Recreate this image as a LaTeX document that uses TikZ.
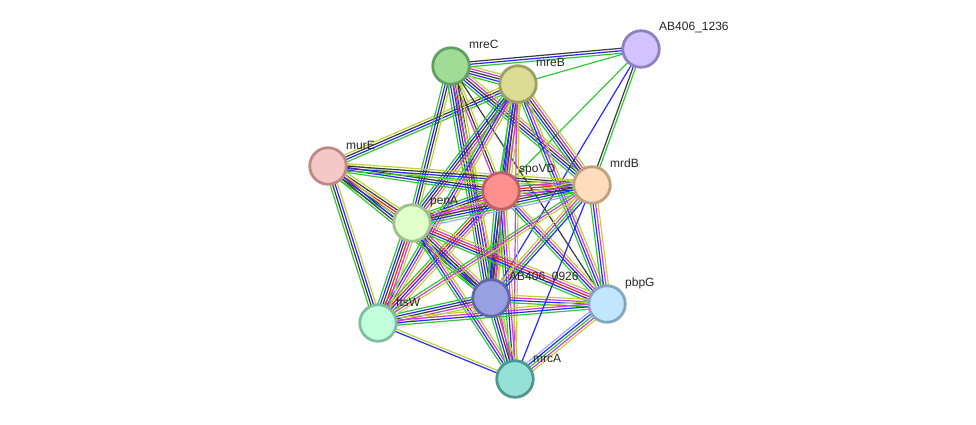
\documentclass[tikz,border=0pt]{standalone}
\usepackage{fontspec}
\setmainfont{Liberation Sans}
\usetikzlibrary{calc,backgrounds}
\definecolor{eG}{RGB}{50,200,50}
\definecolor{eB}{RGB}{40,40,255}
\definecolor{eK}{RGB}{60,60,60}
\definecolor{eM}{RGB}{210,60,210}
\definecolor{eY}{RGB}{190,210,60}
\definecolor{eR}{RGB}{255,30,30}
\definecolor{eL}{RGB}{165,170,255}
\tikzset{
  cG/.style={draw=eG,line width=1.2pt},
  cB/.style={draw=eB,line width=1.2pt},
  cK/.style={draw=eK,line width=1.2pt},
  cM/.style={draw=eM,line width=1.2pt},
  cY/.style={draw=eY,line width=1.2pt},
  cR/.style={draw=eR,line width=1.2pt},
  cL/.style={draw=eL,line width=1.2pt},
  prot/.style={circle,minimum size=36.5pt,inner sep=0pt,line width=2.8pt},
  plabel/.style={anchor=west,font=\fontsize{12}{14}\selectfont,inner sep=0pt,text=black!85}
}
\newcommand\stredge[3]{%
  \gdef\ncol{0}%
  \foreach \c in {#3}{\xdef\ncol{\the\numexpr\ncol+1\relax}}%
  \foreach \c [count=\i] in {#3}{%
    \pgfmathsetmacro\off{(\i-(\ncol+1)/2)*2.5}%
    \draw[\c] ($(#1.center)!\off pt!90:(#2.center)$) -- ($(#2.center)!\off pt!-90:(#1.center)$);
  }%
}
\begin{document}
\begin{tikzpicture}[x=1pt,y=-1pt]
\useasboundingbox (0,0) rectangle (976,425);
% nodes
\node[prot,fill={rgb,255:red,160;green,220;blue,150},draw={rgb,255:red,96;green,160;blue,96}] (mreC) at (451,66) {};
\node[prot,fill={rgb,255:red,220;green,220;blue,150},draw={rgb,255:red,160;green,160;blue,96}] (mreB) at (518,84) {};
\node[prot,fill={rgb,255:red,210;green,195;blue,255},draw={rgb,255:red,144;green,128;blue,192}] (ab36) at (641,49) {};
\node[prot,fill={rgb,255:red,245;green,200;blue,200},draw={rgb,255:red,192;green,136;blue,136}] (murE) at (328,166) {};
\node[prot,fill={rgb,255:red,255;green,144;blue,144},draw={rgb,255:red,192;green,96;blue,96}] (spoVD) at (501,191) {};
\node[prot,fill={rgb,255:red,255;green,220;blue,190},draw={rgb,255:red,192;green,160;blue,128}] (mrdB) at (592,185) {};
\node[prot,fill={rgb,255:red,225;green,255;blue,200},draw={rgb,255:red,160;green,192;blue,144}] (penA) at (412,223) {};
\node[prot,fill={rgb,255:red,152;green,160;blue,224},draw={rgb,255:red,96;green,104;blue,168}] (ab26) at (491,298) {};
\node[prot,fill={rgb,255:red,195;green,230;blue,255},draw={rgb,255:red,128;green,168;blue,192}] (pbpG) at (607,304) {};
\node[prot,fill={rgb,255:red,195;green,255;blue,220},draw={rgb,255:red,128;green,192;blue,160}] (ftsW) at (378,323) {};
\node[prot,fill={rgb,255:red,150;green,225;blue,215},draw={rgb,255:red,80;green,152;blue,144}] (mrcA) at (515,379) {};
% labels
\node[plabel] (lmreC) at (469,44) {mreC};
\node[plabel] (lmreB) at (536,62) {mreB};
\node[plabel] (lab36) at (659,28) {AB406\_1236};
\node[plabel] (lmurE) at (346,145) {murE};
\node[plabel] (lspoVD) at (519,170) {spoVD};
\node[plabel] (lmrdB) at (610,163) {mrdB};
\node[plabel] (lpenA) at (430,202) {penA};
\node[plabel] (lab26) at (509,277) {AB406\_0926};
\node[plabel] (lpbpG) at (625,283) {pbpG};
\node[plabel] (lftsW) at (396,302) {ftsW};
\node[plabel] (lmrcA) at (533,358) {mrcA};
% edges
\begin{pgfonlayer}{background}
\stredge{mreC}{mreB}{cG,cB,cK,cM,cY}
\stredge{mreC}{ab36}{cG,cB,cK}
\stredge{mreB}{ab36}{cG}
\stredge{ab36}{spoVD}{cG}
\stredge{ab36}{ab26}{cB}
\stredge{ab36}{mrdB}{cK,cG}
\stredge{murE}{mreB}{cG,cB,cK,cY}
\stredge{mreC}{penA}{cG,cB,cK,cY}
\stredge{mreC}{spoVD}{cM,cK,cY}
\stredge{mreC}{ab26}{cG,cB,cK,cB,cK,cY}
\stredge{mreC}{mrdB}{cG,cB,cK,cM,cY}
\stredge{mreC}{pbpG}{cK}
\stredge{mreC}{mrcA}{cM,cY}
\stredge{mreB}{penA}{cG,cB,cK,cM,cY}
\stredge{mreB}{spoVD}{cG,cB,cM,cY}
\stredge{mreB}{ab26}{cG,cB,cK,cM,cY}
\stredge{mreB}{mrdB}{cG,cB,cK,cM,cY}
\stredge{mreB}{pbpG}{cG,cB,cM,cY}
\stredge{mreB}{ftsW}{cG,cB,cM,cY}
\stredge{mreB}{mrcA}{cM,cY}
\stredge{murE}{spoVD}{cG,cB,cK,cY}
\stredge{murE}{mrdB}{cG,cB,cK,cY}
\stredge{murE}{penA}{cG,cK,cR,cK,cY}
\stredge{murE}{ftsW}{cG,cK,cB,cY}
\stredge{murE}{ab26}{cG,cK,cB,cY}
\stredge{spoVD}{mrdB}{cG,cB,cK,cR,cM,cY}
\stredge{spoVD}{penA}{cG,cB,cK,cM,cY}
\stredge{spoVD}{ab26}{cG,cB,cK,cM,cY}
\stredge{spoVD}{ftsW}{cG,cR,cB,cM,cY}
\stredge{spoVD}{pbpG}{cG,cB,cM,cY}
\stredge{spoVD}{mrcA}{cG,cB,cM,cY}
\stredge{penA}{ab26}{cG,cB,cK,cM,cY}
\stredge{penA}{ftsW}{cG,cB,cK,cR,cM,cY}
\stredge{penA}{pbpG}{cG,cB,cR,cM,cY}
\stredge{penA}{mrcA}{cG,cB,cM,cY}
\stredge{penA}{mrdB}{cL,cG,cB,cK,cM,cY}
\stredge{ab26}{ftsW}{cG,cB,cK,cM,cY}
\stredge{ab26}{pbpG}{cG,cB,cM,cY}
\stredge{ab26}{mrcA}{cG,cB,cK,cM,cY}
\stredge{ab26}{mrdB}{cB,cG,cM,cY}
\stredge{ftsW}{pbpG}{cG,cB,cM,cY}
\stredge{ftsW}{mrcA}{cB,cY}
\stredge{pbpG}{mrcA}{cL,cB,cG,cM,cY}
\stredge{mrdB}{pbpG}{cG,cB,cM,cY}
\stredge{mrdB}{mrcA}{cB}
\stredge{mrdB}{ftsW}{cG,cM,cY}
\end{pgfonlayer}
\end{tikzpicture}
\end{document}
